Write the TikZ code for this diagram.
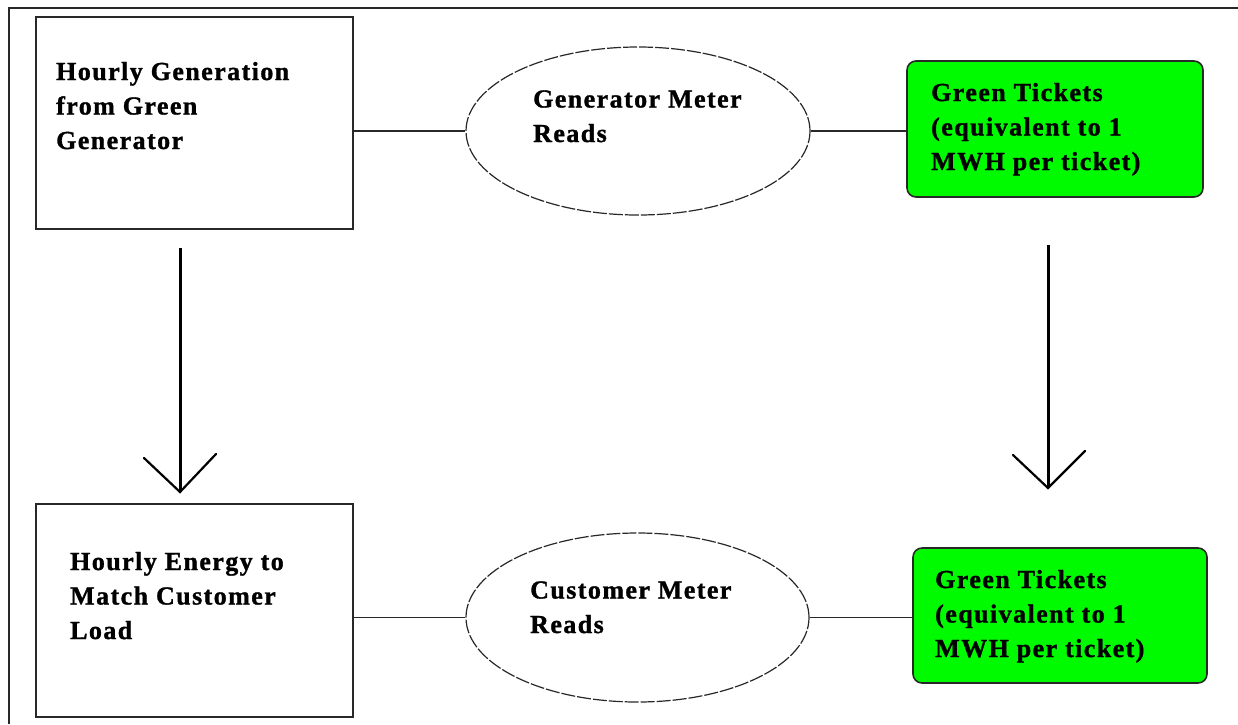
\documentclass[tikz,border=0pt]{standalone}
\usepackage{fontspec}
\newfontfamily\boxfont{Liberation Serif Bold}[LetterSpace=5.5,FakeBold=1.2]
\usetikzlibrary{shapes.geometric}
\definecolor{ticketgreen}{RGB}{0,250,0}
\definecolor{edge}{RGB}{40,40,40}
\begin{document}
\begin{tikzpicture}[x=1pt,y=-1pt,
  plainbox/.style={draw=edge,line width=2pt,fill=white,inner sep=0pt},
  ticketbox/.style={draw=edge,line width=1.6pt,fill=ticketgreen,rounded corners=9pt,inner sep=0pt},
  meter/.style={ellipse,draw=edge,line width=1.2pt,dash pattern=on 14pt off 2pt,inner sep=0pt},
  label/.style={anchor=base west,align=left,inner sep=0pt,font=\boxfont\fontsize{26}{34.5}\selectfont},
  link/.style={draw=edge,line width=1.8pt},
  flow/.style={draw=black,line width=3pt},
  head/.style={draw=black,line width=2.2pt,line cap=round,line join=miter}]
\useasboundingbox (0,0) rectangle (1238,724);
\fill[white] (0,0) rectangle (1238,724);

% frame along the left and top edges
\coordinate (fbl) at (9,724);
\coordinate (ftl) at (9,8);
\coordinate (ftr) at (1238,8);
\draw[draw=edge,line width=2pt] (fbl) -- (ftl) -- (ftr);

% upper row
\node[plainbox,minimum width=317pt,minimum height=212pt] (gen) at (194.5,123) {};
\node[meter,minimum width=344pt,minimum height=168pt] (gmr) at (638,131) {};
\node[ticketbox,minimum width=296pt,minimum height=136pt] (gt1) at (1055,129) {};

% lower row
\node[plainbox,minimum width=317pt,minimum height=213pt] (load) at (194.5,610.5) {};
\node[meter,minimum width=343pt,minimum height=169pt] (cmr) at (637.5,617.5) {};
\node[ticketbox,minimum width=294pt,minimum height=135pt] (gt2) at (1060,615.5) {};

% texts (anchored on the baseline of their last line)
\node[label] (tgen) at (56,149) {Hourly Generation\\from Green\\Generator};
\node[label] (tgmr) at (533,142) {Generator Meter\\Reads};
\node[label] (tgt1) at (931,170) {Green Tickets\\(equivalent to 1\\MWH per ticket)};
\node[label] (tload) at (70,639) {Hourly Energy to\\Match Customer\\Load};
\node[label] (tcmr) at (530,633) {Customer Meter\\Reads};
\node[label] (tgt2) at (935,657) {Green Tickets\\(equivalent to 1\\MWH per ticket)};

% horizontal links
\draw[link] (gen.east |- gmr.west) -- (gmr.west);
\draw[link] (gmr.east) -- (gt1.west |- gmr.east);
\draw[link] (load.east |- cmr.west) -- (cmr.west);
\draw[link] (cmr.east) -- (gt2.west |- cmr.east);

% downward arrows with open V heads
\coordinate (la) at (180,248);
\coordinate (lt) at (180,492);
\coordinate (ll) at (144,458);
\coordinate (lr) at (216,454);
\draw[flow] (la) -- (lt);
\draw[head] (ll) -- (lt) -- (lr);

\coordinate (ra) at (1048,245);
\coordinate (rt) at (1048,488);
\coordinate (rl) at (1013,455);
\coordinate (rr) at (1085,451);
\draw[flow] (ra) -- (rt);
\draw[head] (rl) -- (rt) -- (rr);
\end{tikzpicture}
\end{document}
